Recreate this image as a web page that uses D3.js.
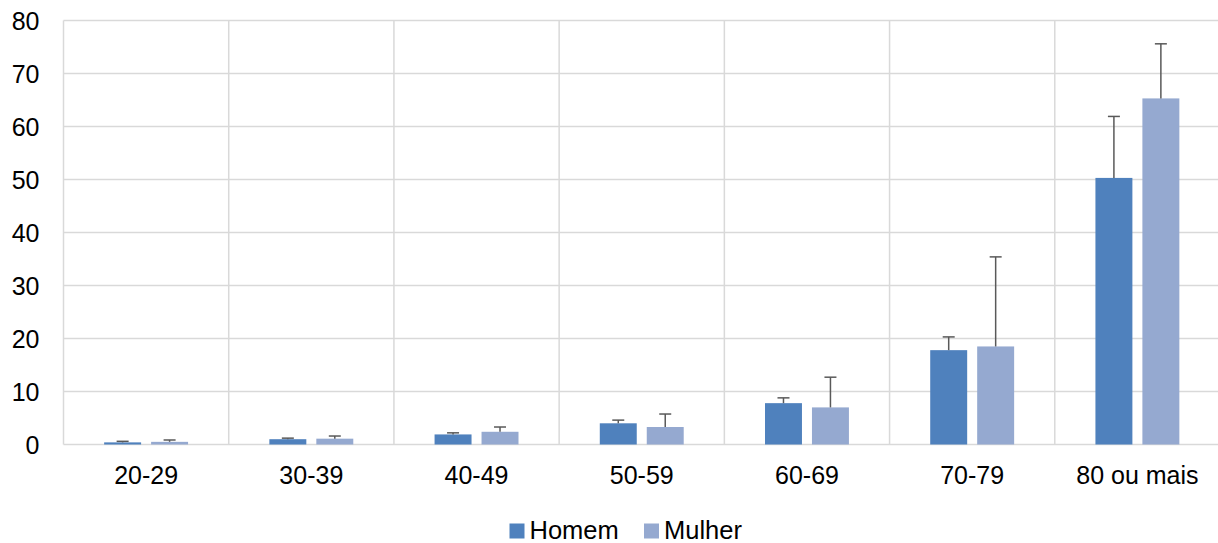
<!DOCTYPE html>
<html><head><meta charset="utf-8">
<script src="https://cdn.jsdelivr.net/npm/d3@7"></script>
<style>body{margin:0;background:#fff}svg{display:block;font-family:"Liberation Sans",Arial,sans-serif}</style>
</head><body><svg id="c" width="1218" height="543"></svg>
<script>
const categories = ["20-29","30-39","40-49","50-59","60-69","70-79","80 ou mais"];
const seriesNames = ["Homem","Mulher"];
const homem = [0.4, 1.0, 1.9, 4.0, 7.8, 17.8, 50.3];
const homemErr = [0.6, 1.2, 2.2, 4.6, 8.8, 20.3, 61.9];
const mulher = [0.5, 1.1, 2.4, 3.3, 7.0, 18.5, 65.3];
const mulherErr = [0.85, 1.6, 3.3, 5.75, 12.7, 35.4, 75.6];
const yTicks = [0,10,20,30,40,50,60,70,80];
const colors = ["#4F81BD","#95A9D0"];

const svg = d3.select("#c");
const L = 63.5, R = 1220, T = 20.5, B = 444.5;
const x = d3.scaleBand().domain(categories).range([L, R]);
const bw = x.bandwidth();
const x1 = d3.scaleBand().domain(seriesNames).range([bw * 0.246, bw * 0.754]).paddingInner(0.213).paddingOuter(0);
const y = d3.scaleLinear().domain([0, 80]).range([B, T]);
const FONT = "Liberation Sans, Arial, sans-serif";
const FS = 25;

// horizontal grid
svg.append("g").selectAll("line").data(yTicks).join("line")
  .attr("x1", L).attr("x2", R).attr("y1", d => y(d)).attr("y2", d => y(d))
  .attr("stroke", "#d9d9d9").attr("stroke-width", 1.5);
// vertical grid
svg.append("g").selectAll("line").data(d3.range(categories.length + 1)).join("line")
  .attr("x1", i => L + i * bw).attr("x2", i => L + i * bw)
  .attr("y1", T).attr("y2", B).attr("stroke", "#d9d9d9").attr("stroke-width", 1.5);

// y axis labels
const yAxis = d3.axisLeft(y).tickValues(yTicks).tickSize(0).tickPadding(0);
const gy = svg.append("g").attr("transform", `translate(39.5,0)`).call(yAxis);
gy.select(".domain").remove();
gy.attr("font-size", null).attr("font-family", null);
gy.selectAll("text").attr("font-size", FS).attr("fill", "#000").attr("font-family", FONT).attr("dy", "0.36em");

// x axis labels
const xAxis = d3.axisBottom(x).tickSize(0).tickPadding(0);
const gx = svg.append("g").attr("transform", `translate(0,${B + 22})`).call(xAxis);
gx.select(".domain").remove();
gx.attr("font-size", null).attr("font-family", null);
gx.selectAll("text").attr("font-size", FS).attr("fill", "#000").attr("font-family", FONT);

const data = categories.map((c, i) => ({c, vals: [
  {s: "Homem", v: homem[i], e: homemErr[i], k: 0},
  {s: "Mulher", v: mulher[i], e: mulherErr[i], k: 1}
]}));

const groups = svg.append("g").selectAll("g").data(data).join("g")
  .attr("transform", d => `translate(${x(d.c)},0)`);
groups.selectAll("rect").data(d => d.vals).join("rect")
  .attr("x", d => x1(d.s)).attr("width", x1.bandwidth())
  .attr("y", d => y(d.v)).attr("height", d => y(0) - y(d.v))
  .attr("fill", d => colors[d.k]);

// error bars
const eb = groups.selectAll("g.eb").data(d => d.vals).join("g").attr("class", "eb");
eb.append("line")
  .attr("x1", d => x1(d.s) + x1.bandwidth()/2).attr("x2", d => x1(d.s) + x1.bandwidth()/2)
  .attr("y1", d => y(d.v)).attr("y2", d => y(d.e))
  .attr("stroke", "#595959").attr("stroke-width", 1.5);
eb.append("line")
  .attr("x1", d => x1(d.s) + x1.bandwidth()/2 - 6).attr("x2", d => x1(d.s) + x1.bandwidth()/2 + 6)
  .attr("y1", d => y(d.e)).attr("y2", d => y(d.e))
  .attr("stroke", "#595959").attr("stroke-width", 1.5);

// legend
const lg = svg.append("g");
const legendItems = [{s:"Homem", x:509.5}, {s:"Mulher", x:644}];
legendItems.forEach((it, i) => {
  lg.append("rect").attr("x", it.x).attr("y", 523.5).attr("width", 15).attr("height", 15).attr("fill", colors[i]);
  lg.append("text").attr("x", it.x + 20).attr("y", 538.5).attr("font-size", 25.5).attr("font-family", FONT).attr("fill", "#000").text(it.s);
});
</script></body></html>
